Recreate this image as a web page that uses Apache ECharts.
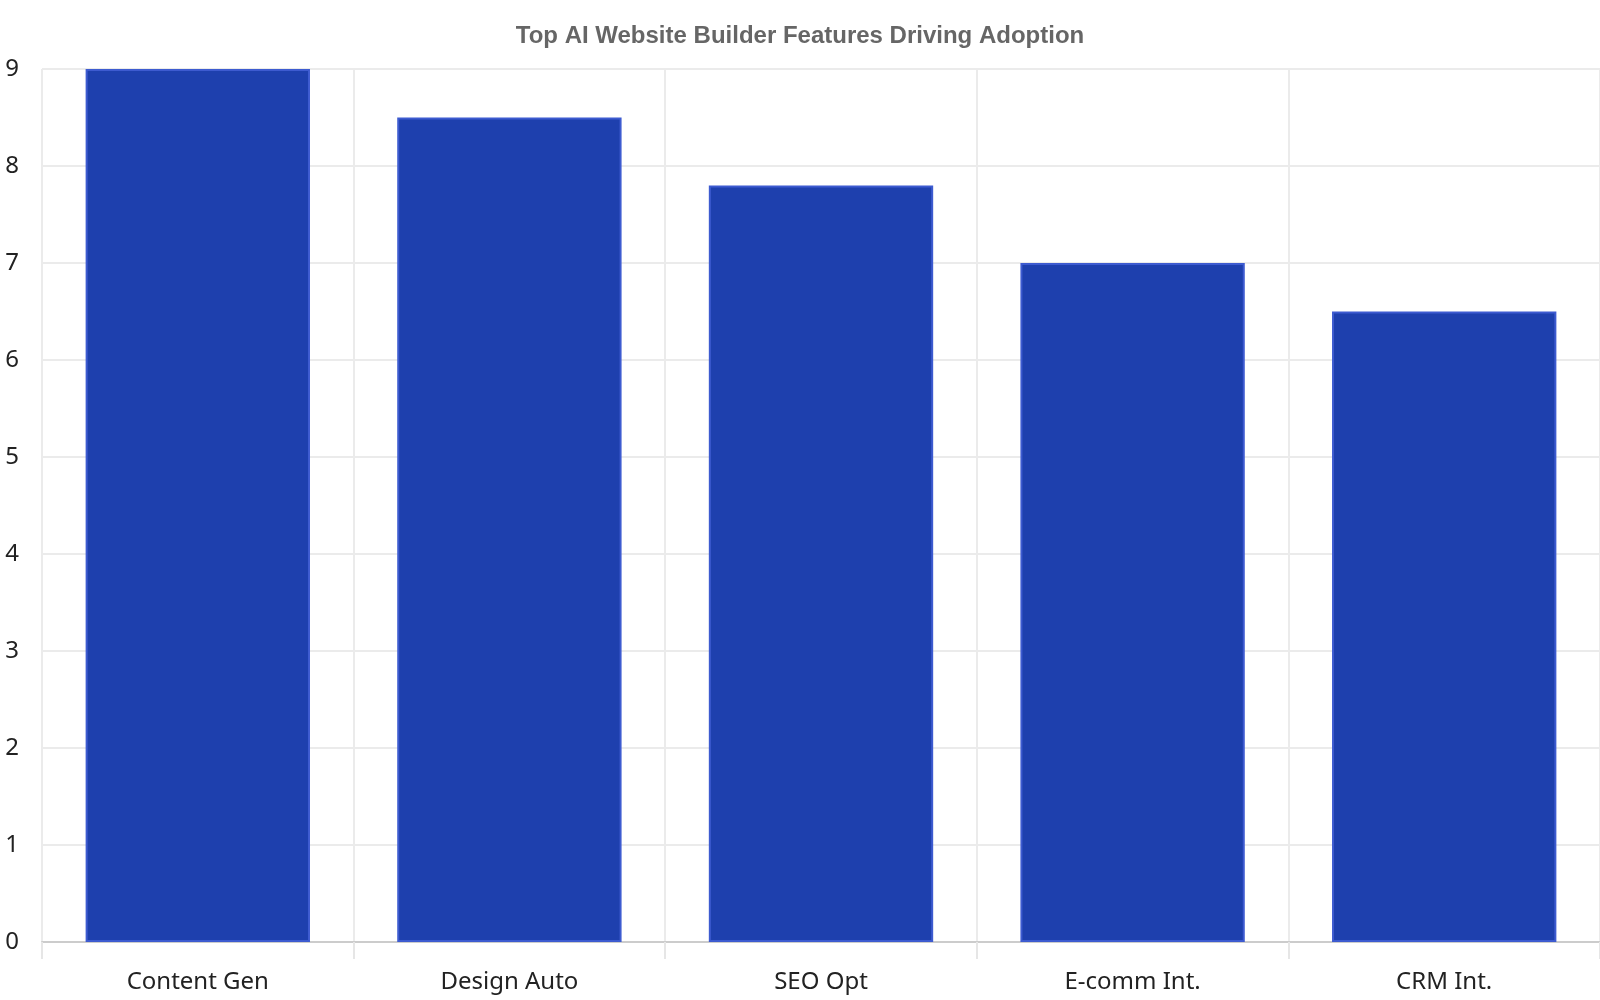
<!DOCTYPE html>
<html>
<head>
<meta charset="utf-8">
<script src="https://cdn.jsdelivr.net/npm/echarts@6/dist/echarts.min.js"></script>
<style>
html, body { margin: 0; padding: 0; background: #fff; }
#chart { width: 1600px; height: 1000px; }
</style>
</head>
<body>
<div id="chart"></div>
<script>
var categories = ['Content Gen', 'Design Auto', 'SEO Opt', 'E-comm Int.', 'CRM Int.'];
var values = [9, 8.5, 7.8, 7, 6.5];

var myChart = echarts.init(document.getElementById('chart'));
var option = {
	backgroundColor: '#fff',
	title: {
		text: 'Top AI Website Builder Features Driving Adoption',
		left: 'center',
		top: 19,
		textStyle: {
			fontFamily: 'Liberation Sans',
			fontSize: 24,
			fontWeight: 'bold',
			color: '#666'
		}
	},
	grid: {
		left: 42,
		right: 0,
		top: 69,
		bottom: 58
	},
	xAxis: {
		type: 'category',
		data: categories,
		axisLine: {
			lineStyle: { color: '#ccc', width: 2 }
		},
		axisTick: {
			show: true,
			length: 17,
			lineStyle: { color: '#e6e6e6', width: 2 }
		},
		splitLine: {
			show: true,
			lineStyle: { color: '#ebebeb', width: 2 }
		},
		axisLabel: {
			fontFamily: 'Noto Sans',
			fontSize: 24,
			color: '#222',
			margin: 28
		}
	},
	yAxis: {
		type: 'value',
		min: 0,
		max: 9,
		interval: 1,
		axisLine: { show: false },
		axisTick: { show: false },
		splitLine: {
			lineStyle: { color: '#ebebeb', width: 2 }
		},
		axisLabel: {
			fontFamily: 'Noto Sans',
			fontSize: 24,
			color: '#222',
			margin: 23,
			padding: [4, 0, 0, 0]
		}
	},
	series: [{
		type: 'bar',
		data: values,
		barWidth: '72%',
		itemStyle: {
			color: '#1e40ae',
			borderColor: '#3d5bd0',
			borderWidth: 2
		}
	}]
};
myChart.setOption(option);
</script>
</body>
</html>
